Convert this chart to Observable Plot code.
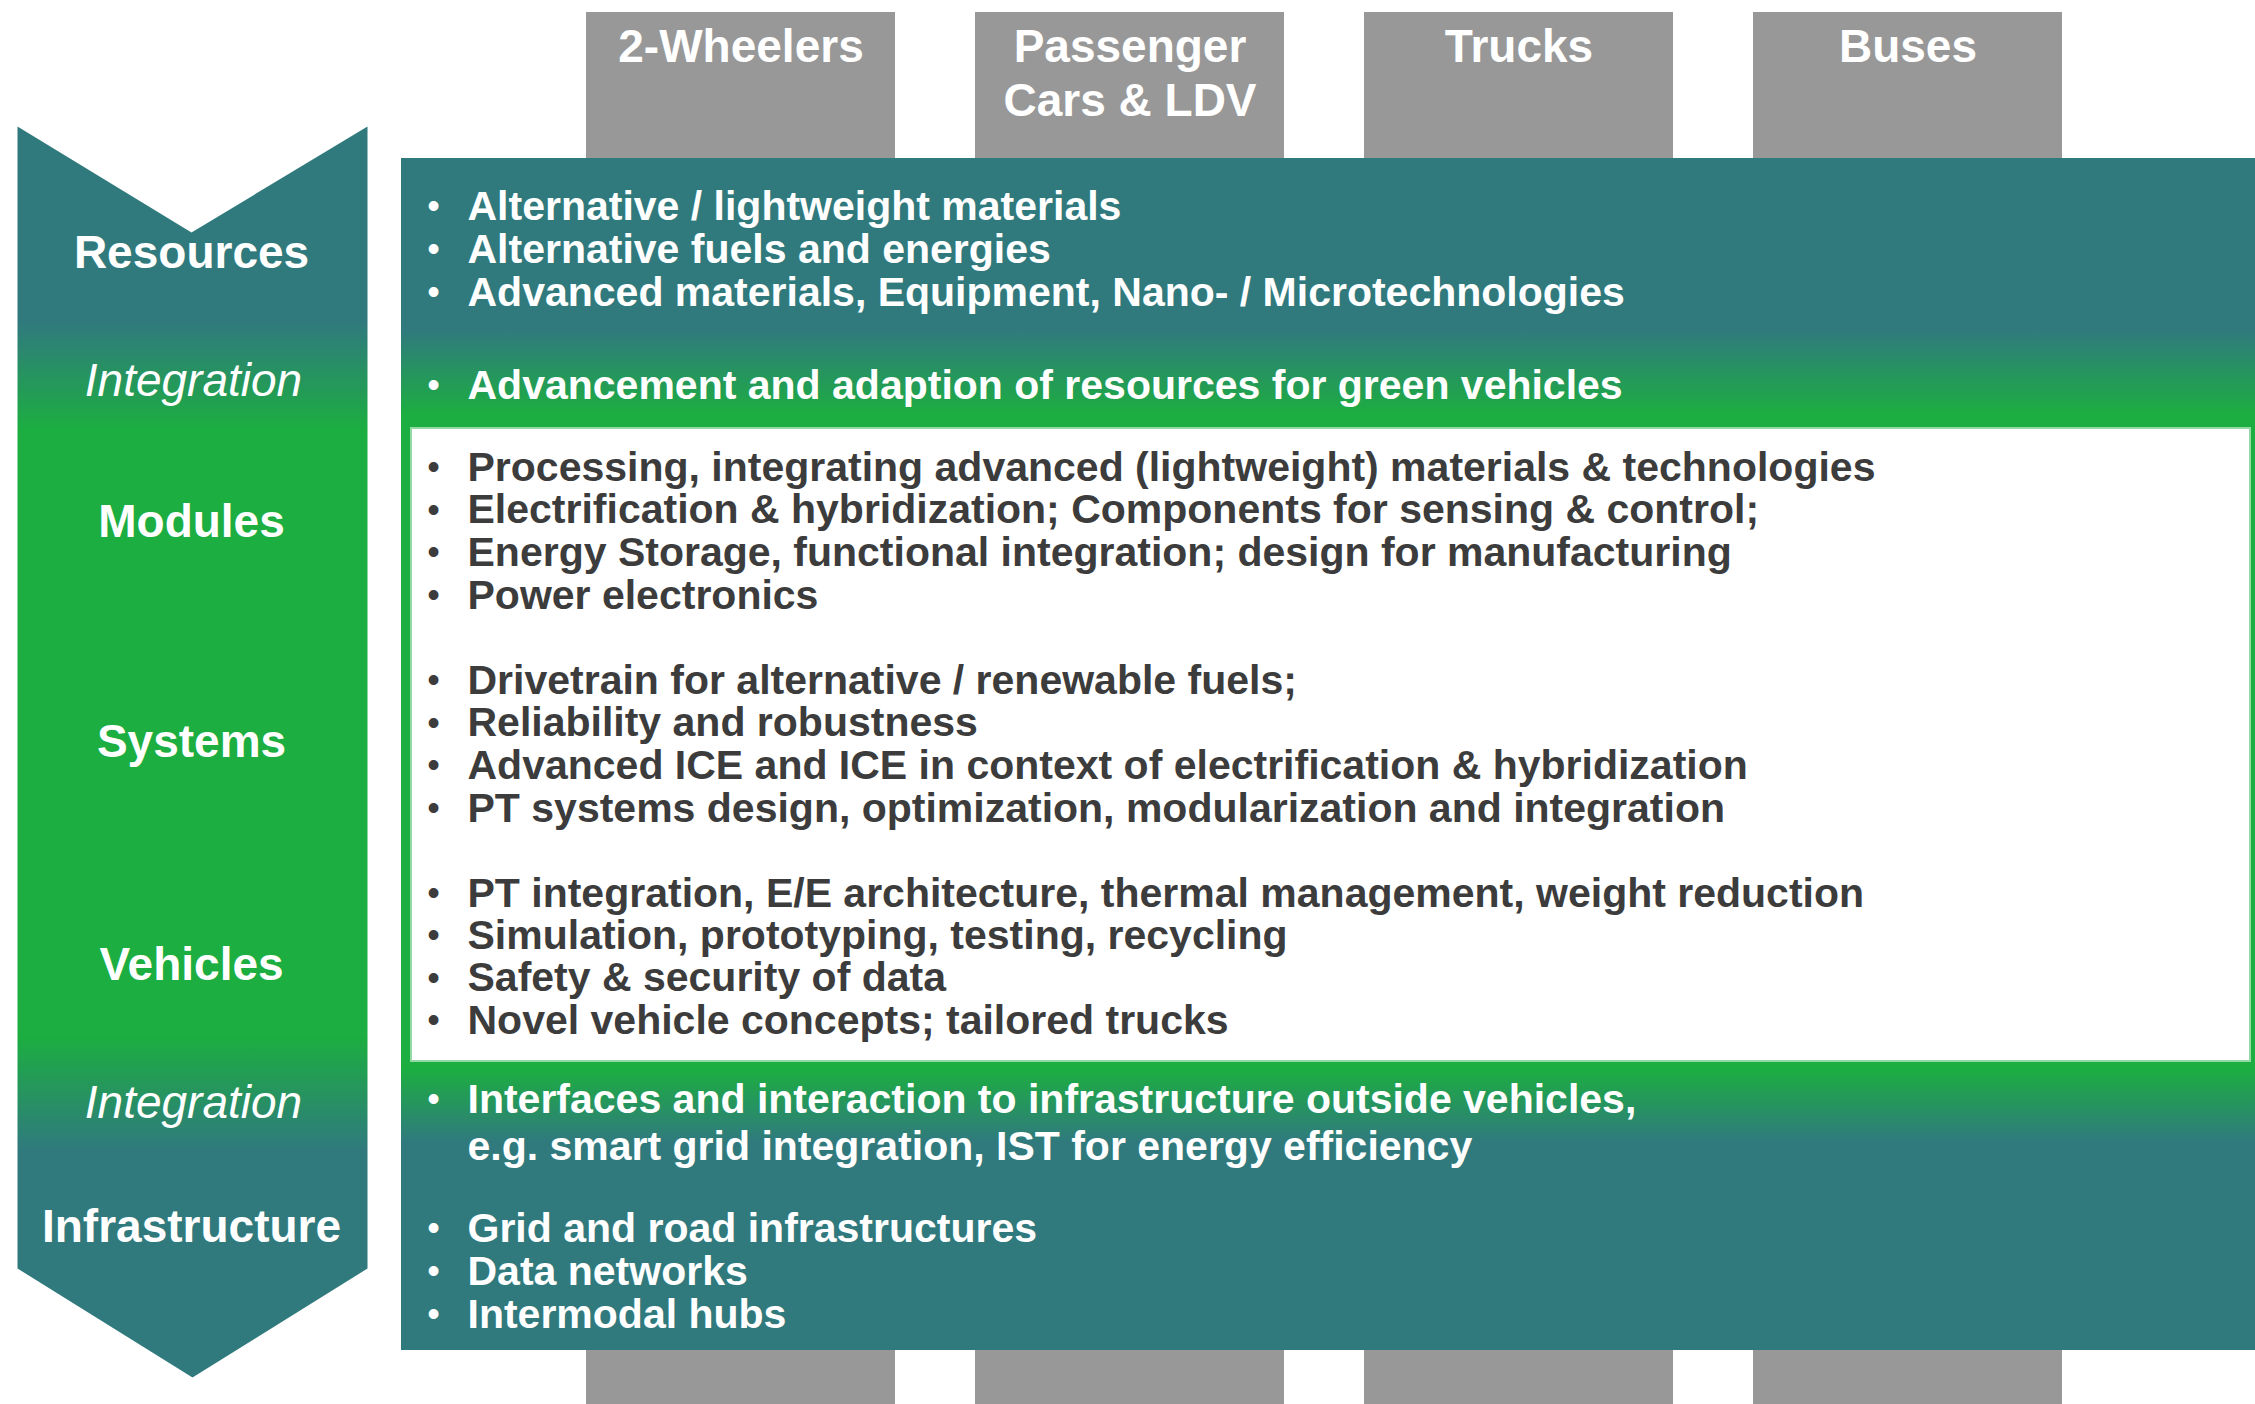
<!DOCTYPE html>
<html><head><meta charset="utf-8">
<script src="https://cdn.jsdelivr.net/npm/d3@7"></script>
<script src="https://cdn.jsdelivr.net/npm/@observablehq/plot@0.6"></script>
<style>html,body{margin:0;padding:0;background:#fff;overflow:hidden} svg{display:block}</style>
</head><body><div id="chart"></div>
<script>
// ---- data ----
const vehicleTypes = ["2-Wheelers", "Passenger\nCars & LDV", "Trucks", "Buses"];
const levels = ["Resources", "Integration", "Modules", "Systems", "Vehicles", "Integration", "Infrastructure"];
const levelItalic = [false, true, false, false, false, true, false];
const resourcesItems = [
  "Alternative / lightweight materials",
  "Alternative fuels and energies",
  "Advanced materials, Equipment, Nano- / Microtechnologies"
];
const integrationTopItems = ["Advancement and adaption of resources for green vehicles"];
const modulesItems = [
  "Processing, integrating advanced (lightweight) materials & technologies",
  "Electrification & hybridization; Components for sensing & control;",
  "Energy Storage, functional integration; design for manufacturing",
  "Power electronics"
];
const systemsItems = [
  "Drivetrain for alternative / renewable fuels;",
  "Reliability and robustness",
  "Advanced ICE and ICE in context of electrification & hybridization",
  "PT systems design, optimization, modularization and integration"
];
const vehiclesItems = [
  "PT integration, E/E architecture, thermal management, weight reduction",
  "Simulation, prototyping, testing, recycling",
  "Safety & security of data",
  "Novel vehicle concepts; tailored trucks"
];
const integrationBottomItems = ["Interfaces and interaction to infrastructure outside vehicles,"];
const integrationBottomContinuation = ["e.g. smart grid integration, IST for energy efficiency"];
const infrastructureItems = ["Grid and road infrastructures", "Data networks", "Intermodal hubs"];

// ---- layout ----
const W = 2255, H = 1404;
const TEAL = "#307a7e", GREEN = "#1cae40", GRAY = "#989898", DARK = "#3c3c3c";
const FONT = "Liberation Sans, Arial, Helvetica, sans-serif";

const colX0 = 586, colW = 309, colStep = 389, colTop = 12;
const columns = vehicleTypes.map((name, i) => ({name, x1: colX0 + i * colStep, x2: colX0 + i * colStep + colW, y1: colTop, y2: H}));
const headerLines = columns.flatMap(c => c.name.split("\n").map((t, j) => ({t, x: (c.x1 + c.x2) / 2, y: colTop + 35 + j * 54})));

const box = [{x1: 401, x2: W + 5, y1: 158, y2: 1350}];
const whiteBox = [{x1: 411, x2: 2250, y1: 428, y2: 1061}];

const arrow = [
  {x: 17, y: 126}, {x: 191, y: 232}, {x: 367, y: 126},
  {x: 367, y: 1268}, {x: 192, y: 1377}, {x: 17, y: 1268}, {x: 17, y: 126}
];

const levelY = [253, 381, 522, 742, 965, 1103, 1227];
const levelRows = levels.map((t, i) => ({t, y: levelY[i], italic: levelItalic[i]}));

const blocks = [
  {items: resourcesItems, y0: 206, step: 43, dark: false, bullet: true},
  {items: integrationTopItems, y0: 385, step: 43, dark: false, bullet: true},
  {items: modulesItems, y0: 467, step: 42.7, dark: true, bullet: true},
  {items: systemsItems, y0: 680, step: 42.7, dark: true, bullet: true},
  {items: vehiclesItems, y0: 893, step: 42.3, dark: true, bullet: true},
  {items: integrationBottomItems, y0: 1099, step: 43, dark: false, bullet: true},
  {items: integrationBottomContinuation, y0: 1146, step: 43, dark: false, bullet: false},
  {items: infrastructureItems, y0: 1228, step: 43, dark: false, bullet: true}
];
const rows = blocks.flatMap(b => b.items.map((t, i) => ({t, y: b.y0 + i * b.step, dark: b.dark, bullet: b.bullet})));
const bulletRows = rows.filter(r => r.bullet);

// gradient definitions as a render-function mark
function defsMark(index, scales) {
  const ns = "http://www.w3.org/2000/svg";
  const y = scales && scales.y ? scales.y : (v => v);
  const defs = document.createElementNS(ns, "defs");
  const mk = (id, stops) => {
    const g = document.createElementNS(ns, "linearGradient");
    g.setAttribute("id", id);
    g.setAttribute("gradientUnits", "userSpaceOnUse");
    g.setAttribute("x1", 0); g.setAttribute("x2", 0);
    g.setAttribute("y1", y(0)); g.setAttribute("y2", y(H));
    for (const [pos, color] of stops) {
      const s = document.createElementNS(ns, "stop");
      s.setAttribute("offset", (y(pos) - y(0)) / (y(H) - y(0)));
      s.setAttribute("stop-color", color);
      g.appendChild(s);
    }
    defs.appendChild(g);
  };
  mk("gradBox", [[0, TEAL], [330, TEAL], [415, GREEN], [1068, GREEN], [1142, TEAL], [H, TEAL]]);
  mk("gradArrow", [[0, TEAL], [322, TEAL], [430, GREEN], [1035, GREEN], [1150, TEAL], [H, TEAL]]);
  return defs;
}

const chart = Plot.plot({
  width: W, height: H,
  margin: 0,
  x: {domain: [0, W], range: [0, W], axis: null},
  y: {domain: [0, H], range: [0, H], axis: null},
  style: {background: "#fff", fontFamily: FONT},
  marks: [
    defsMark,
    Plot.rect(columns, {x1: "x1", x2: "x2", y1: "y1", y2: "y2", fill: GRAY}),
    Plot.text(headerLines, {x: "x", y: "y", text: "t", fill: "#fff",
      fontSize: 46, fontWeight: "bold", textAnchor: "middle", fontFamily: FONT}),
    Plot.rect(box, {x1: "x1", x2: "x2", y1: "y1", y2: "y2", fill: "url(#gradBox)"}),
    Plot.rect(whiteBox, {x1: "x1", x2: "x2", y1: "y1", y2: "y2", fill: "#fff", stroke: "#93d9a4", strokeWidth: 2}),
    Plot.line(arrow, {x: "x", y: "y", fill: "url(#gradArrow)", stroke: "none", curve: "linear"}),
    Plot.text(levelRows.filter(d => !d.italic), {x: 191, y: "y", text: "t", fill: "#fff", fontSize: 46, fontFamily: FONT,
      fontWeight: "bold", textAnchor: "middle"}),
    Plot.text(levelRows.filter(d => d.italic), {x: 193, y: "y", text: "t", fill: "#fff", fontSize: 46, fontFamily: FONT,
      fontWeight: "normal", fontStyle: "italic", textAnchor: "middle"}),
    Plot.text(bulletRows, {x: 433, y: "y", text: d => "•", fill: d => d.dark ? DARK : "#fff", fontSize: 36, fontFamily: FONT, textAnchor: "middle"}),
    Plot.text(rows, {x: 467, y: "y", text: "t", fill: d => d.dark ? DARK : "#fff", fontSize: 41, fontWeight: "bold", fontFamily: FONT, textAnchor: "start"})
  ]
});
document.getElementById("chart").appendChild(chart);
</script>
</body></html>
